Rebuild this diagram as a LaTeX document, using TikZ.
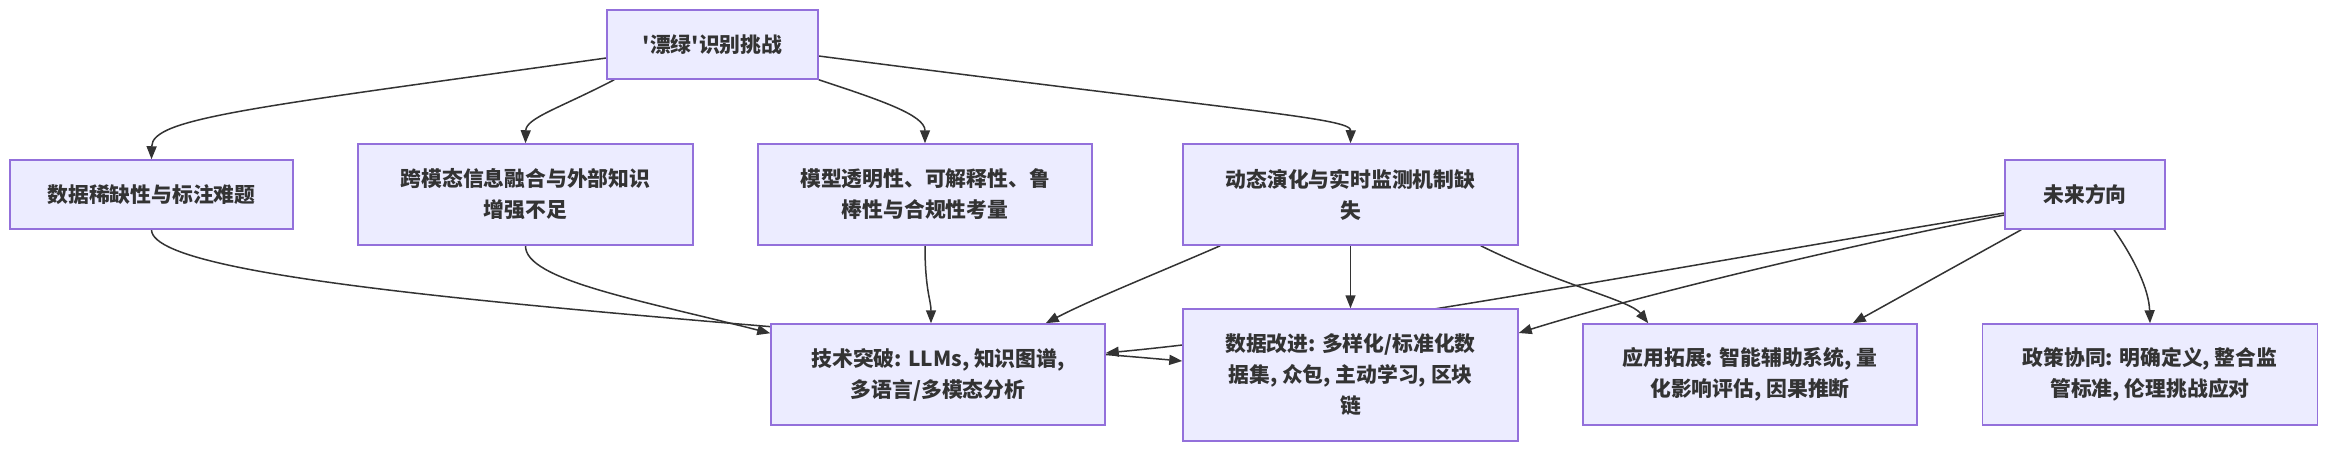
\documentclass[tikz,border=0pt]{standalone}
\usepackage{fontspec}
\newfontfamily\cjk{Noto Sans CJK SC}
\usetikzlibrary{arrows.meta,backgrounds}

\definecolor{boxfill}{HTML}{ECECFF}
\definecolor{boxline}{HTML}{9370DB}
\definecolor{ink}{HTML}{333333}

\tikzset{
box/.style={draw=boxline, fill=boxfill, line width=0.75pt, text=ink, align=center, inner sep=0pt,
  font=\cjk\bfseries\fontsize{10.4pt}{15.5pt}\selectfont},
link/.style={draw=ink, line width=0.75pt, -{Triangle[length=6.5pt,width=5pt]}}
}

\begin{document}
\begin{tikzpicture}[x=0.5pt,y=-0.5pt]
\useasboundingbox (0,0) rectangle (2352,456);

% challenges
\node[box, minimum width=105.5pt, minimum height=34.5pt] (challenge) at (712.5,44.5) {'漂绿'识别挑战};
\node[box, minimum width=141.5pt, minimum height=34.5pt] (scarce) at (151.5,194.5) {数据稀缺性与标注难题};
\node[box, minimum width=167.5pt, minimum height=50.5pt] (fusion) at (525.5,194.5) {跨模态信息融合与外部知识\\增强不足};
\node[box, minimum width=167pt, minimum height=50.5pt] (transp) at (925,194.5) {模型透明性、可解释性、鲁\\棒性与合规性考量};
\node[box, minimum width=167.5pt, minimum height=50.5pt] (dynamic) at (1350.5,194.5) {动态演化与实时监测机制缺\\失};

% future directions
\node[box, minimum width=80pt, minimum height=34.5pt] (future) at (2085,194.5) {未来方向};
\node[box, minimum width=167pt, minimum height=50.5pt] (tech) at (938,374.5) {技术突破: LLMs, 知识图谱,\\多语言/多模态分析};
\node[box, minimum width=167.5pt, minimum height=66pt] (data) at (1350.5,375) {数据改进: 多样化/标准化数\\据集, 众包, 主动学习, 区块\\链};
\node[box, minimum width=167pt, minimum height=50.5pt] (app) at (1750,374.5) {应用拓展: 智能辅助系统, 量\\化影响评估, 因果推断};
\node[box, minimum width=167.5pt, minimum height=50.5pt] (policy) at (2150,374.5) {政策协同: 明确定义, 整合监\\管标准, 伦理挑战应对};

\begin{pgfonlayer}{background}
\fill[white] (0,0) rectangle (2352,456);
\draw[link] ([yshift=-6.75pt]challenge.west) .. controls (250,108) and (152,118) .. (scarce.north);
\draw[link] ([xshift=4pt]challenge.south west) .. controls (560,108) and (526,118) .. (fusion.north);
\draw[link] (challenge.south east) .. controls (880,100) and (925,115) .. (transp.north);
\draw[link] ([yshift=-5.75pt]challenge.east) .. controls (1250,112) and (1351,118) .. (dynamic.north);

\draw[link] (scarce.south) .. controls (152,285) and (650,315) .. ([yshift=7pt]data.west);
\draw[link] (fusion.south) .. controls (525,280) and (640,300) .. ([yshift=-5pt]tech.north west);
\draw[link] (transp.south) .. controls (925,290) and (931,300) .. ([xshift=-3.5pt]tech.north);
\draw[link] ([xshift=19pt]dynamic.south west) .. controls (1160,272) and (1090,300) .. ([xshift=-30pt]tech.north east);
\draw[link] (dynamic.south) -- (data.north);
\draw[link] ([xshift=-19pt]dynamic.south east) .. controls (1560,285) and (1630,300) .. ([xshift=33pt]app.north west);

\draw[link] ([yshift=-9.25pt]future.west) .. controls (1700,262) and (1350,330) .. ([yshift=10.75pt]tech.east);
\draw[link] ([yshift=-10.25pt]future.west) .. controls (1850,245) and (1640,295) .. ([yshift=21pt]data.east);
\draw[link] ([xshift=8.5pt]future.south west) -- ([xshift=-32.5pt]app.north east);
\draw[link] ([xshift=14.5pt]future.south) .. controls (2135,260) and (2149,290) .. (policy.north);
\end{pgfonlayer}
\end{tikzpicture}
\end{document}
